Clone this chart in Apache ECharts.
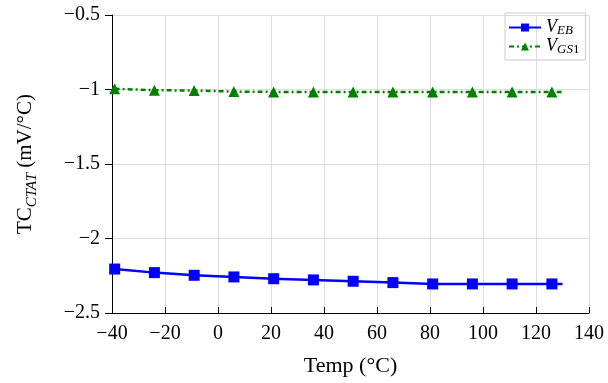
<!DOCTYPE html>
<html>
<head>
<meta charset="utf-8">
<script src="https://cdn.jsdelivr.net/npm/echarts@6/dist/echarts.min.js"></script>
<style>
  html, body { margin: 0; padding: 0; background: #fff; }
  #chart { width: 608px; height: 383px; }
</style>
</head>
<body>
<div id="chart"></div>
<script>
// temperatures where the marks sit, plus the last point of each line
const temps = [-39, -24, -9, 6, 21, 36, 51, 66, 81, 96, 111, 126, 130]
const vEB = [-2.205, -2.229, -2.247, -2.258, -2.270, -2.278, -2.287, -2.296, -2.305, -2.305, -2.305, -2.305, -2.305]
const vGS1 = [-0.995, -1.005, -1.007, -1.014, -1.016, -1.016, -1.016, -1.016, -1.016, -1.016, -1.016, -1.016, -1.016]

const serif = 'Liberation Serif'
const minus = v => String(v).replace('-', '\u2212')

// last point is the end of the line only, no mark there
function pairs(ys) {
  return temps.map((t, i) => i === temps.length - 1
    ? { value: [t, ys[i]], symbol: 'none' }
    : [t, ys[i]])
}

const subRich = {
  i: { fontFamily: serif, fontStyle: 'italic', fontSize: 18, lineHeight: 10, verticalAlign: 'top', color: '#000' },
  sub: { fontFamily: serif, fontStyle: 'italic', fontSize: 13, lineHeight: 19, verticalAlign: 'bottom', color: '#000' },
  subr: { fontFamily: serif, fontSize: 13, lineHeight: 19, verticalAlign: 'bottom', color: '#000' }
}

const option = {
  animation: false,
  grid: { left: 112, right: 19, top: 15, bottom: 70 },
  legend: {
    orient: 'vertical',
    left: 505,
    top: 13,
    padding: [5, 6, 4, 3],
    itemGap: 0,
    itemWidth: 32,
    itemHeight: 10,
    borderColor: '#cccccc',
    borderWidth: 1,
    borderRadius: 0,
    data: ['VEB', 'VGS1'],
    formatter: name => name === 'VEB' ? '{i|V}{sub|EB}' : '{i|V}{sub|GS}{subr|1}',
    textStyle: { rich: subRich }
  },
  xAxis: {
    type: 'value',
    min: -40,
    max: 140,
    interval: 20,
    name: 'Temp (°C)',
    nameLocation: 'middle',
    nameGap: 42,
    nameTextStyle: { fontFamily: serif, fontSize: 22, color: '#000' },
    axisLine: { onZero: false, lineStyle: { color: '#000', width: 1 } },
    axisTick: { inside: true, length: 6, lineStyle: { color: '#000' } },
    axisLabel: { fontFamily: serif, fontSize: 20, color: '#000', margin: 11, formatter: minus },
    splitLine: { show: true, lineStyle: { color: '#dcdcdc', width: 1 } }
  },
  yAxis: {
    type: 'value',
    min: -2.5,
    max: -0.5,
    interval: 0.5,
    name: 'TC{sub|CTAT} (mV/°C)',
    nameLocation: 'middle',
    nameGap: 72,
    nameTextStyle: {
      fontFamily: serif, fontSize: 21, color: '#000',
      rich: {
        sub: { fontFamily: serif, fontStyle: 'italic', fontSize: 15, lineHeight: 30, verticalAlign: 'bottom', color: '#000' }
      }
    },
    axisLine: { show: true, onZero: false, lineStyle: { color: '#000', width: 1 } },
    axisTick: { show: true, inside: false, length: 7, lineStyle: { color: '#000' } },
    axisLabel: { fontFamily: serif, fontSize: 20, color: '#000', margin: 12, formatter: minus },
    splitLine: { show: true, lineStyle: { color: '#dcdcdc', width: 1 } }
  },
  series: [
    {
      name: 'VEB',
      type: 'line',
      data: pairs(vEB),
      symbol: 'rect',
      symbolSize: 11,
      itemStyle: { color: '#0000ff' },
      lineStyle: { color: '#0000ff', width: 2.5 }
    },
    {
      name: 'VGS1',
      type: 'line',
      data: pairs(vGS1),
      symbol: 'triangle',
      symbolSize: 11,
      itemStyle: { color: '#008000' },
      lineStyle: { color: '#008000', width: 2.5, type: [5, 3, 2, 3] }
    }
  ]
}

const chart = echarts.init(document.getElementById('chart'))
chart.setOption(option)
</script>
</body>
</html>
